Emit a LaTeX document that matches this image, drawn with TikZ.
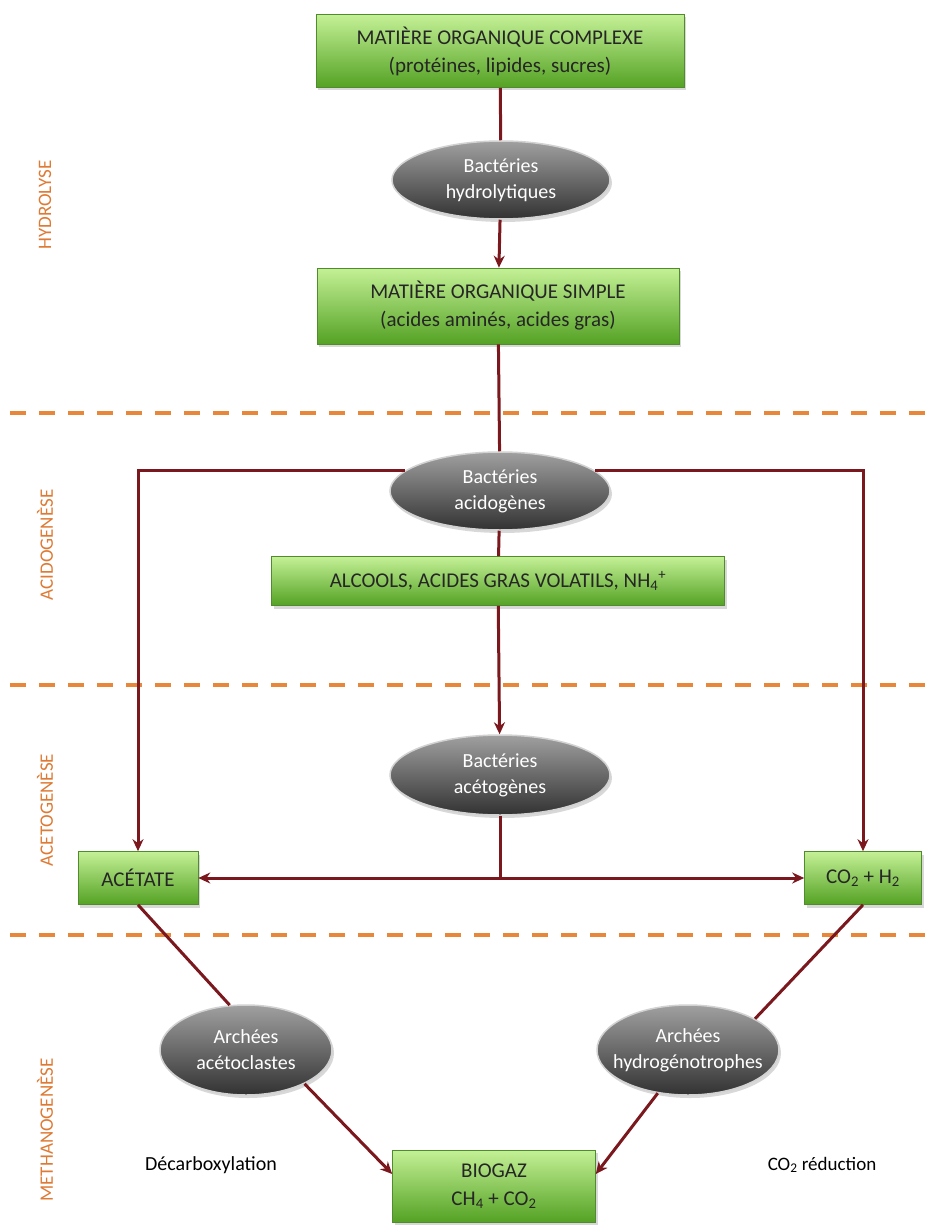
\documentclass[tikz,border=0pt]{standalone}
\usepackage{fontspec}
\setmainfont{Carlito}
\usetikzlibrary{shapes.geometric, shadows, arrows.meta}
\definecolor{boxtop}{RGB}{196,240,150}
\definecolor{boxbottom}{RGB}{84,162,36}
\definecolor{boxline}{RGB}{80,140,45}
\definecolor{celllight}{RGB}{160,160,160}
\definecolor{celldark}{RGB}{50,50,50}
\definecolor{flowred}{RGB}{122,24,30}
\definecolor{phaseorange}{RGB}{232,134,58}
\definecolor{labelorange}{RGB}{222,122,52}

\begin{document}
\begin{tikzpicture}[x=1pt, y=-1pt]
            \tikzset{stage/.style={rectangle, draw=boxline, line width=0.6pt, top color=boxtop, bottom color=boxbottom,
                drop shadow={opacity=0.3, shadow xshift=2pt, shadow yshift=-3pt},
                align=center, text=black!85, inner sep=0pt, font=\fontsize{21}{28}\selectfont}}
            \tikzset{microbe/.style={ellipse, draw=gray!35, line width=1.5pt, top color=celllight, bottom color=celldark,
                drop shadow={opacity=0.3, shadow xshift=2pt, shadow yshift=-3pt},
                align=center, text=white, inner sep=0pt, font=\fontsize{20}{26}\selectfont}}
            \tikzset{link/.style={flowred, line width=3pt}}
            \tikzset{flow/.style={link, -{Stealth[length=12pt, width=11pt]}}}
            \tikzset{phase/.style={phaseorange, line width=4pt, dash pattern=on 16pt off 13pt}}
            \tikzset{phasename/.style={rotate=90, text=labelorange, font=\fontsize{19}{22}\selectfont}}
            \fill[white] (0,0) rectangle (928,1225);
            \useasboundingbox (0,0) rectangle (928,1225);
            \foreach \y in {413, 685, 935} {
                \draw[phase] (10,\y) -- (928,\y);
            }
            \node[phasename] (hydrolyse) at (45,205) {HYDROLYSE};
            \node[phasename] (acidogenese) at (45,545) {ACIDOGENÈSE};
            \node[phasename] (acetogenese) at (45,810) {ACETOGENÈSE};
            \node[phasename] (methanogenese) at (45,1130) {METHANOGENÈSE};
            \node[stage, minimum width=368pt, minimum height=73pt] (complexe) at (500,51)
                {MATIÈRE ORGANIQUE COMPLEXE\\(protéines, lipides, sucres)};
            \node[microbe, minimum width=218pt, minimum height=78pt] (hydro) at (501,180)
                {Bactéries\\hydrolytiques};
            \node[stage, minimum width=362pt, minimum height=76pt] (simple) at (498,306)
                {MATIÈRE ORGANIQUE SIMPLE\\(acides aminés, acides gras)};
            \node[microbe, minimum width=220pt, minimum height=78pt] (acido) at (500,491)
                {Bactéries\\acidogènes};
            \node[stage, minimum width=453pt, minimum height=49pt] (alcools) at (498,581)
                {ALCOOLS, ACIDES GRAS VOLATILS, NH\textsubscript{4}\textsuperscript{+}};
            \node[microbe, minimum width=220pt, minimum height=80pt] (aceto) at (500,775)
                {Bactéries\\acétogènes};
            \node[stage, minimum width=120pt, minimum height=53pt] (acetate) at (138,878) {ACÉTATE};
            \node[stage, minimum width=117pt, minimum height=53pt] (co2) at (863,878)
                {CO\textsubscript{2} + H\textsubscript{2}};
            \node[microbe, minimum width=172pt, minimum height=90pt] (acetoclastes) at (246,1050)
                {Archées\\acétoclastes};
            \node[microbe, minimum width=182pt, minimum height=90pt, inner xsep=-14pt] (hydrogeno) at (688,1050)
                {Archées\\hydrogénotrophes};
            \node[stage, minimum width=203pt, minimum height=72pt] (biogaz) at (494,1186)
                {BIOGAZ\\CH\textsubscript{4} + CO\textsubscript{2}};
            \node[font=\fontsize{20}{24}\selectfont] (decarbox) at (211,1165) {Décarboxylation};
            \node[font=\fontsize{19}{24}\selectfont] (reduction) at (822,1165) {CO\textsubscript{2} réduction};
            \coordinate (junction) at (aceto |- acetate);
            \draw[link] (complexe) -- (hydro);
            \draw[flow] (hydro) -- (simple);
            \draw[link] (simple) -- (acido);
            \draw[flow] (acido.168) -| (acetate);
            \draw[flow] (acido.12) -| (co2);
            \draw[link] (acido) -- (alcools);
            \draw[flow] (alcools) -- (aceto);
            \draw[link] (aceto) -- (junction);
            \draw[link, {Stealth[length=12pt, width=11pt]}-{Stealth[length=12pt, width=11pt]}] (acetate) -- (co2);
            \draw[link] (acetate.south) -- (acetoclastes.110);
            \draw[link] (co2.south) -- (hydrogeno.25);
            \draw[flow] (acetoclastes.-30) -- ([yshift=12pt]biogaz.west);
            \draw[flow] (hydrogeno.-125) -- ([yshift=12pt]biogaz.east);
        \end{tikzpicture}
\end{document}
